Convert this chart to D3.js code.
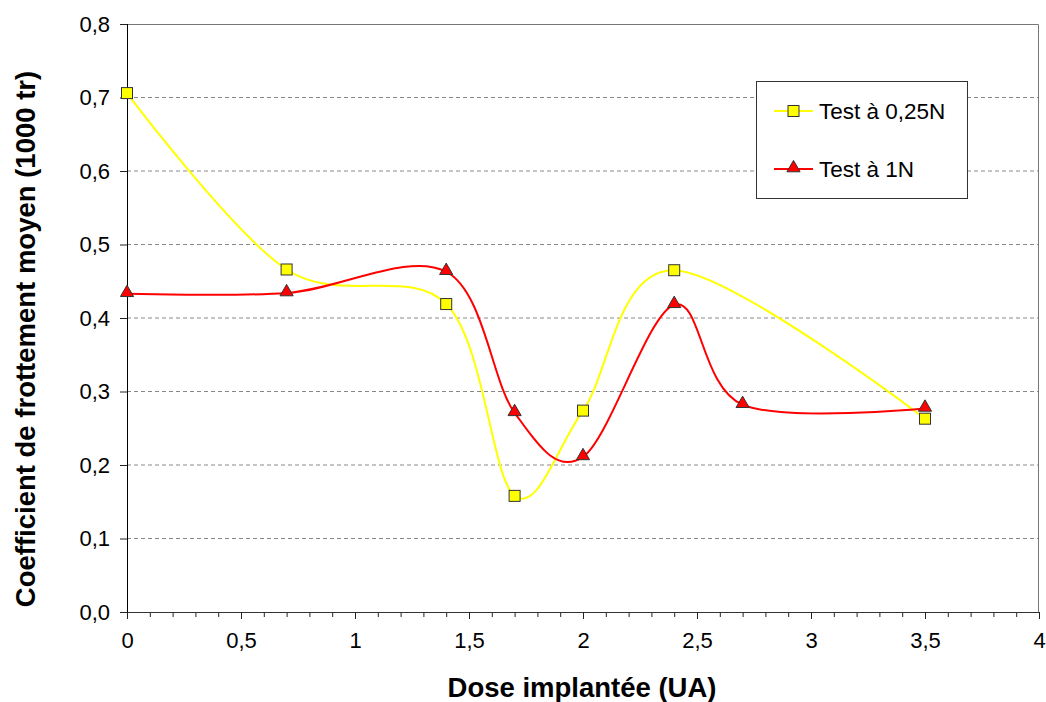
<!DOCTYPE html>
<meta charset="utf-8">
<style>
    body { margin: 0; background: #fff; }
    svg { font-family: "Liberation Sans", Arial, sans-serif; }
</style>
<body>
<script src="https://cdn.jsdelivr.net/npm/d3@7"></script>
<script>

var doseLow = [0, 0.7, 1.4, 1.7, 2.0, 2.4, 3.5];
var coefLow = [0.706, 0.466, 0.419, 0.158, 0.274, 0.465, 0.263];

var doseHigh = [0, 0.7, 1.4, 1.7, 2.0, 2.4, 2.7, 3.5];
var coefHigh = [0.433, 0.434, 0.463, 0.271, 0.211, 0.418, 0.282, 0.277];

var seriesNames = ['Test à 0,25N', 'Test à 1N'];
var yTicks = [0, 0.1, 0.2, 0.3, 0.4, 0.5, 0.6, 0.7, 0.8];
var xTicks = [0, 0.5, 1, 1.5, 2, 2.5, 3, 3.5, 4];

var margin = {top: 24, right: 7, bottom: 90, left: 127},
    width = 1046 - margin.left - margin.right,
    height = 702 - margin.top - margin.bottom;

var fmt = function(d) { return String(d).replace('.', ','); };
var fmtY = function(d) { return d3.format('.1f')(d).replace('.', ','); };

var x = d3.scaleLinear().domain([0, 4]).range([0, width]);
var y = d3.scaleLinear().domain([0, 0.8]).range([height, 0]);

var svg = d3.select('body').append('svg')
    .attr('width', 1046)
    .attr('height', 702);

var g = svg.append('g')
    .attr('transform', 'translate(' + margin.left + ',' + margin.top + ')');

// grid
g.append('g').selectAll('line')
    .data(yTicks.slice(1, -1))
    .enter().append('line')
    .attr('x1', 0).attr('x2', width)
    .attr('y1', function(d) { return y(d); })
    .attr('y2', function(d) { return y(d); })
    .attr('stroke', '#888')
    .attr('stroke-dasharray', '4,3');

// frame top / right
g.append('path')
    .attr('d', 'M0,0.5H' + (width - 0.5) + 'V' + height)
    .attr('fill', 'none')
    .attr('stroke', '#777');

// x axis: minor ticks every 0.1
var xMinor = d3.range(0, 41).map(function(i) { return i / 10; });
g.append('g')
    .attr('transform', 'translate(0,' + height + ')')
    .call(d3.axisBottom(x).tickValues(xMinor).tickSize(5).tickFormat(''))
    .call(function(s) { s.select('.domain').remove(); s.selectAll('line').attr('stroke', '#222'); });

var xAxis = g.append('g')
    .attr('transform', 'translate(0,' + height + ')')
    .call(d3.axisBottom(x).tickValues(xTicks).tickSize(7).tickPadding(13).tickFormat(fmt));
xAxis.select('.domain').attr('stroke', '#333').attr('d', 'M0,0.5H' + width);
xAxis.selectAll('line').attr('stroke', '#222');
xAxis.selectAll('text').attr('font-size', 22).attr('fill', '#000')
    .attr('font-family', '"Liberation Sans", Arial, sans-serif');

var yAxis = g.append('g')
    .call(d3.axisLeft(y).tickValues(yTicks).tickSize(7).tickPadding(10).tickFormat(fmtY));
yAxis.select('.domain').attr('stroke', '#000').attr('d', 'M0.5,0V' + height);
yAxis.selectAll('line').attr('stroke', '#222');
yAxis.selectAll('text').attr('font-size', 22).attr('fill', '#000')
    .attr('font-family', '"Liberation Sans", Arial, sans-serif');

// titles
svg.append('text')
    .attr('x', margin.left + x(2) - 1)
    .attr('y', 697)
    .attr('text-anchor', 'middle')
    .attr('font-size', 27.5)
    .attr('font-weight', 'bold')
    .text('Dose implantée (UA)');

svg.append('text')
    .attr('transform', 'translate(35,' + 339 + ') rotate(-90)')
    .attr('text-anchor', 'middle')
    .attr('font-size', 27.5)
    .attr('font-weight', 'bold')
    .text('Coefficient de frottement moyen (1000 tr)');

// lines
var line = d3.line()
    .x(function(d) { return x(d[0]); })
    .y(function(d) { return y(d[1]); })
    .curve(d3.curveCatmullRom.alpha(0));

var lowData = d3.zip(doseLow, coefLow);
var highData = d3.zip(doseHigh, coefHigh);

g.append('path').datum(lowData)
    .attr('d', line)
    .attr('fill', 'none')
    .attr('stroke', '#ffff00')
    .attr('stroke-width', 2);

g.append('path').datum(highData)
    .attr('d', line)
    .attr('fill', 'none')
    .attr('stroke', '#ff0000')
    .attr('stroke-width', 2);

var triangle = d3.symbol().type(d3.symbolTriangle).size(75);

g.append('g').selectAll('rect')
    .data(lowData)
    .enter().append('rect')
    .attr('x', function(d) { return x(d[0]) - 5.5; })
    .attr('y', function(d) { return y(d[1]) - 5.5; })
    .attr('width', 11).attr('height', 11)
    .attr('fill', '#ffff00')
    .attr('stroke', '#333')
    .attr('stroke-width', 1);

g.append('g').selectAll('path')
    .data(highData)
    .enter().append('path')
    .attr('d', triangle)
    .attr('transform', function(d) { return 'translate(' + x(d[0]) + ',' + (y(d[1]) - 1) + ')'; })
    .attr('fill', '#ff0000')
    .attr('stroke', '#333')
    .attr('stroke-width', 1);

// legend
var legend = svg.append('g').attr('transform', 'translate(756,81)');
legend.append('rect')
    .attr('x', 0.5).attr('y', 0.5)
    .attr('width', 211).attr('height', 117)
    .attr('fill', '#fff')
    .attr('stroke', '#333');

var legendRows = [
    {name: seriesNames[0], color: '#ffff00', y: 30, mark: 'square'},
    {name: seriesNames[1], color: '#ff0000', y: 88, mark: 'triangle'}
];
legendRows.forEach(function(r) {
    legend.append('line')
        .attr('x1', 18).attr('x2', 57)
        .attr('y1', r.y).attr('y2', r.y)
        .attr('stroke', r.color).attr('stroke-width', 2);
    if (r.mark === 'square') {
        legend.append('rect')
            .attr('x', 37.5 - 5.5).attr('y', r.y - 5.5)
            .attr('width', 11).attr('height', 11)
            .attr('fill', r.color).attr('stroke', '#333');
    } else {
        legend.append('path')
            .attr('d', triangle)
            .attr('transform', 'translate(37.5,' + (r.y - 1) + ')')
            .attr('fill', r.color).attr('stroke', '#333');
    }
    legend.append('text')
        .attr('x', 63).attr('y', r.y + 8)
        .attr('font-size', 22.5)
        .text(r.name);
});

</script>
</body>
